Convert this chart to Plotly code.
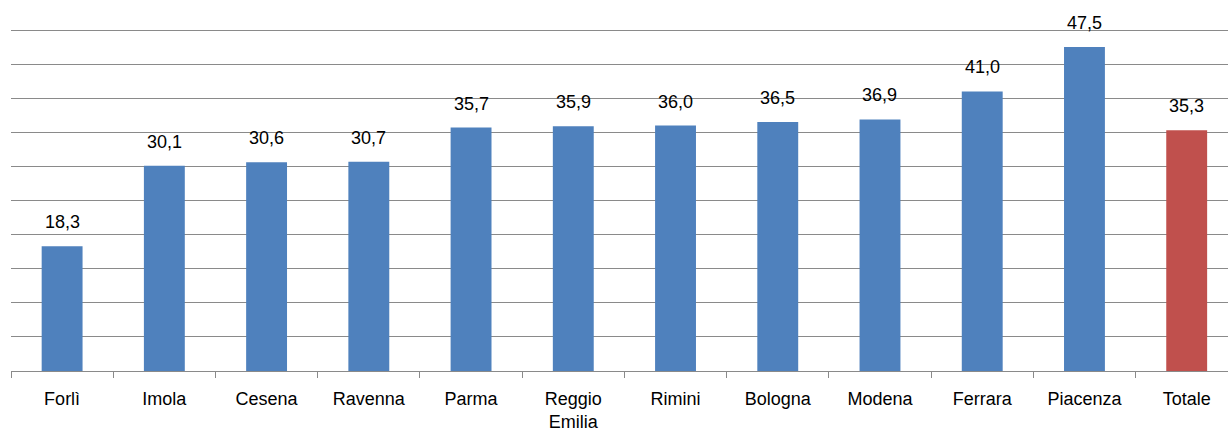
import plotly.graph_objects as go

categories = ["Forlì", "Imola", "Cesena", "Ravenna", "Parma", "Reggio<br>Emilia",
              "Rimini", "Bologna", "Modena", "Ferrara", "Piacenza", "Totale"]
values = [18.3, 30.1, 30.6, 30.7, 35.7, 35.9, 36.0, 36.5, 36.9, 41.0, 47.5, 35.3]
labels = ["18,3", "30,1", "30,6", "30,7", "35,7", "35,9", "36,0", "36,5", "36,9", "41,0", "47,5", "35,3"]

BLUE = "#4F81BD"
RED = "#C0504D"
colors = [BLUE] * (len(values) - 1) + [RED]

FONT = "Liberation Sans"

fig = go.Figure()
fig.add_trace(go.Bar(
    x=categories,
    y=values,
    marker=dict(color=colors, line=dict(width=0)),
    width=0.4,
    hoverinfo="skip",
))

for c, v, t in zip(categories, values, labels):
    fig.add_annotation(x=c, y=v, text=t, showarrow=False, yanchor="bottom",
                       yshift=12, font=dict(family=FONT, size=18, color="#000000"))

fig.update_layout(
    width=1228, height=432,
    margin=dict(l=11, r=0, t=28, b=61),
    paper_bgcolor="white", plot_bgcolor="white",
    showlegend=False,
    font=dict(family=FONT, size=18, color="#000000"),
)
fig.update_xaxes(
    type="category",
    range=[-0.5, 11.404],
    showline=True, linecolor="#8a8a8a", linewidth=1,
    ticks="outside", tickson="boundaries", ticklen=6, tickcolor="#8a8a8a", tickwidth=1,
    ticklabelstandoff=11,
    showgrid=False, zeroline=False,
    tickfont=dict(family=FONT, size=18, color="#000000"),
)
fig.update_yaxes(
    range=[0, 50.3], dtick=5, tick0=0,
    showgrid=True, gridcolor="#8a8a8a", gridwidth=1,
    showticklabels=False, zeroline=False, showline=False,
)

fig.write_html("out.html")
